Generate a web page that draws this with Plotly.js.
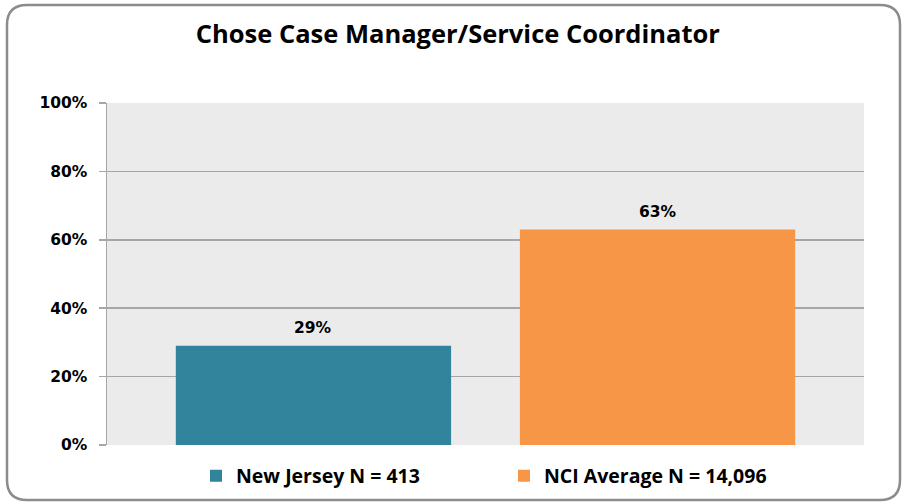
<!DOCTYPE html>
<html>
<head>
<meta charset="utf-8">
<script src="https://cdn.plot.ly/plotly-3.0.1.min.js"></script>
<style>html,body{margin:0;padding:0;background:#fff;} #chart{width:903px;height:502px;}</style>
</head>
<body>
<div id="chart"></div>
<script>
var seriesNames = ["New Jersey N = 413", "NCI Average N = 14,096"];
var seriesValues = [29, 63];
var seriesColors = ["#31849b", "#f79646"];
var tickVals = [0, 20, 40, 60, 80, 100];
var tickText = ["0%", "20%", "40%", "60%", "80%", "100%"];
var chartTitle = "Chose Case Manager/Service Coordinator";

var W = 903, H = 502;
var L = 107, R = 864, T = 103, B = 445;

var traces = seriesNames.map(function (name, i) {
  return {
    type: "bar",
    name: name,
    x: [i],
    y: [seriesValues[i]],
    width: 0.8,
    marker: { color: seriesColors[i], line: { width: 0 } },
    hoverinfo: "none"
  };
});

var labelAnnotations = seriesValues.map(function (v, i) {
  return {
    x: i, y: v, xref: "x", yref: "y",
    text: v + "%",
    showarrow: false,
    yanchor: "bottom",
    yshift: 7,
    font: { family: "DejaVu Sans", size: 15.5, color: "#000", weight: "bold" }
  };
});

function px(x) { return (x - L) / (R - L); }
function py(y) { return (B - y) / (B - T); }
var x0 = 7, x1 = 900, y0 = 5, y1 = 500, r = 20;
var framePath =
  "M" + px(x0 + r) + "," + py(y0) +
  " L" + px(x1 - r) + "," + py(y0) +
  " Q" + px(x1) + "," + py(y0) + " " + px(x1) + "," + py(y0 + r) +
  " L" + px(x1) + "," + py(y1 - r) +
  " Q" + px(x1) + "," + py(y1) + " " + px(x1 - r) + "," + py(y1) +
  " L" + px(x0 + r) + "," + py(y1) +
  " Q" + px(x0) + "," + py(y1) + " " + px(x0) + "," + py(y1 - r) +
  " L" + px(x0) + "," + py(y0 + r) +
  " Q" + px(x0) + "," + py(y0) + " " + px(x0 + r) + "," + py(y0) + " Z";

var layout = {
  width: W, height: H,
  margin: { l: L, r: W - R, t: T, b: H - B, pad: 0, autoexpand: false },
  paper_bgcolor: "#ffffff",
  plot_bgcolor: "#ebebeb",
  showlegend: true,
  bargap: 0.2,
  title: {
    text: chartTitle,
    font: { family: "Open Sans", size: 25.5, color: "#000", weight: "bold" },
    x: 0.507, xanchor: "center",
    y: 1 - 34 / H, yanchor: "middle", yref: "container"
  },
  xaxis: {
    range: [-0.6, 1.6],
    showticklabels: false,
    ticks: "",
    showgrid: false,
    zeroline: false,
    showline: false,
    fixedrange: true
  },
  yaxis: {
    range: [0, 100],
    tickvals: tickVals,
    ticktext: tickText,
    ticks: "outside",
    ticklen: 7,
    tickwidth: 1.5,
    tickcolor: "#a6a6a6",
    ticklabelstandoff: 8,
    showgrid: true,
    gridcolor: "#a6a6a6",
    gridwidth: 1.5,
    zeroline: false,
    showline: true,
    linecolor: "#a6a6a6",
    linewidth: 1.5,
    tickfont: { family: "DejaVu Sans", size: 15.5, color: "#000", weight: "bold" },
    fixedrange: true
  },
  legend: {
    orientation: "h",
    xref: "container", yref: "container",
    x: 196 / W, xanchor: "left",
    y: 1 - 476 / H, yanchor: "middle",
    entrywidth: 263,
    entrywidthmode: "pixels",
    font: { family: "Open Sans", size: 19.5, color: "#000", weight: "bold" },
    bgcolor: "rgba(0,0,0,0)",
    itemclick: false, itemdoubleclick: false
  },
  annotations: labelAnnotations,
  shapes: [
    { type: "path", xref: "paper", yref: "paper", path: framePath,
      line: { color: "#8c8c8c", width: 2.5 }, fillcolor: "rgba(0,0,0,0)", layer: "above" }
  ]
};

Plotly.newPlot("chart", traces, layout, { displayModeBar: false, staticPlot: true });
</script>
</body>
</html>
